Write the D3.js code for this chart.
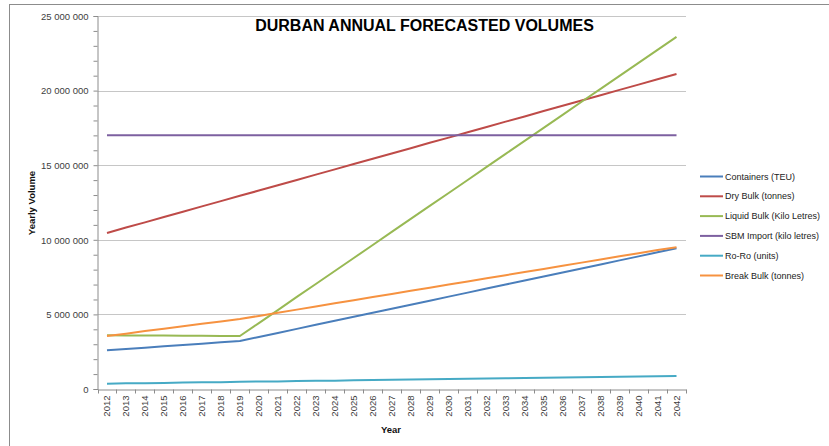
<!DOCTYPE html>
<html>
<head>
<meta charset="utf-8">
<script src="https://cdn.jsdelivr.net/npm/d3@7"></script>
<style>
  html, body { margin: 0; padding: 0; background: #fff; }
  svg { display: block; }
  text { font-family: "Liberation Sans", Arial, sans-serif; }
</style>
</head>
<body>
<svg id="chart" width="829" height="446"></svg>
<script>
// ---- Data ----
const title = "DURBAN ANNUAL FORECASTED VOLUMES";
const years = ["2012","2013","2014","2015","2016","2017","2018","2019","2020","2021","2022","2023","2024","2025","2026","2027","2028","2029","2030","2031","2032","2033","2034","2035","2036","2037","2038","2039","2040","2041","2042"];
const yTicks = [0, 5000000, 10000000, 15000000, 20000000, 25000000];
const seriesNames = ["Containers (TEU)","Dry Bulk (tonnes)","Liquid Bulk (Kilo Letres)","SBM Import (kilo letres)","Ro-Ro (units)","Break Bulk (tonnes)"];
const seriesColors = ["#4A7EBB","#BE4B48","#98B954","#7D60A0","#46AAC5","#F69240"];

const containers = [2590000,2680000,2770000,2860000,2950000,3040000,3130000,3220000,3490000,3760000,4030000,4300000,4570000,4840000,5110000,5380000,5650000,5920000,6190000,6460000,6730000,7000000,7270000,7540000,7810000,8080000,8350000,8620000,8890000,9160000,9430000];
const dryBulk = [10460000,10820000,11170000,11530000,11880000,12240000,12590000,12950000,13300000,13660000,14010000,14370000,14720000,15080000,15430000,15790000,16140000,16500000,16850000,17210000,17560000,17920000,18270000,18630000,18980000,19340000,19690000,20050000,20400000,20760000,21110000];
const liquidBulk = [3600000,3590000,3590000,3580000,3570000,3570000,3560000,3550000,4420000,5290000,6170000,7040000,7910000,8780000,9650000,10530000,11400000,12270000,13140000,14010000,14890000,15760000,16630000,17500000,18370000,19250000,20120000,20990000,21860000,22730000,23600000];
const sbmImport = [17000000,17000000,17000000,17000000,17000000,17000000,17000000,17000000,17000000,17000000,17000000,17000000,17000000,17000000,17000000,17000000,17000000,17000000,17000000,17000000,17000000,17000000,17000000,17000000,17000000,17000000,17000000,17000000,17000000,17000000,17000000];
const roRo = [360000,380000,390000,410000,430000,450000,460000,480000,500000,510000,530000,550000,560000,580000,600000,620000,630000,650000,670000,680000,700000,720000,730000,750000,770000,790000,800000,820000,840000,850000,870000];
const breakBulk = [3550000,3710000,3880000,4040000,4200000,4370000,4530000,4690000,4900000,5110000,5320000,5530000,5740000,5950000,6160000,6370000,6580000,6790000,7000000,7210000,7420000,7630000,7840000,8050000,8260000,8470000,8680000,8890000,9100000,9310000,9500000];

const seriesValues = [containers, dryBulk, liquidBulk, sbmImport, roRo, breakBulk];

// ---- Layout ----
const svg = d3.select("#chart");
const plot = { left: 97.5, right: 686, top: 16, bottom: 389 };

// outer chart border
svg.append("rect")
  .attr("x", 9.5).attr("y", 4.5).attr("width", 840).attr("height", 460)
  .attr("fill", "none").attr("stroke", "#8c8c8c").attr("stroke-width", 1);

const x = d3.scaleBand().domain(years).range([plot.left, plot.right]).padding(0);
const y = d3.scaleLinear().domain([0, 25000000]).range([plot.bottom, plot.top]);

const fmt = v => d3.format(",")(v).replace(/,/g, " ");

// gridlines
svg.append("g").selectAll("line").data(yTicks.filter(d => d > 0)).join("line")
  .attr("x1", plot.left).attr("x2", plot.right)
  .attr("y1", d => Math.round(y(d)) + 0.5).attr("y2", d => Math.round(y(d)) + 0.5)
  .attr("stroke", "#c6c6c6").attr("stroke-width", 1);

// y axis (minor ticks every 1M)
const yMinor = d3.range(0, 25000001, 1000000);
const yAxisG = svg.append("g").attr("transform", `translate(${plot.left},0)`);
yAxisG.call(d3.axisLeft(y).tickValues(yMinor).tickSize(4).tickFormat(""));
yAxisG.selectAll(".domain, .tick line").attr("stroke", "#8c8c8c");
yAxisG.selectAll(".tick").filter(d => d % 5000000 === 0)
  .append("text")
  .attr("x", -9).attr("dy", "0.35em")
  .attr("text-anchor", "end")
  .attr("fill", "#404040")
  .style("font-size", "9.5px")
  .text(d => fmt(d));

// x axis
const xAxisG = svg.append("g").attr("transform", `translate(0,${plot.bottom + 0.5})`);
xAxisG.call(d3.axisBottom(x).tickSize(0).tickFormat(""));
xAxisG.select(".domain").attr("stroke", "#8c8c8c");
// boundary ticks
const bounds = years.map(d => x(d)).concat([x(years[years.length - 1]) + x.bandwidth()]);
xAxisG.append("g").selectAll("line").data(bounds).join("line")
  .attr("x1", d => Math.round(d) + 0.5).attr("x2", d => Math.round(d) + 0.5)
  .attr("y1", 0).attr("y2", 4).attr("stroke", "#8c8c8c");
xAxisG.append("g").selectAll("text").data(years).join("text")
  .attr("transform", d => `translate(${x(d) + x.bandwidth() / 2 + 3.5},6) rotate(-90)`)
  .attr("text-anchor", "end")
  .attr("fill", "#404040")
  .style("font-size", "9.5px")
  .text(d => d);

// axis titles
svg.append("text")
  .attr("x", 391).attr("y", 433)
  .attr("text-anchor", "middle")
  .style("font-size", "9.5px").style("font-weight", "bold").attr("fill", "#111")
  .text("Year");
svg.append("text")
  .attr("transform", "translate(35,203) rotate(-90)")
  .attr("text-anchor", "middle")
  .style("font-size", "9.5px").style("font-weight", "bold").attr("fill", "#111")
  .text("Yearly Volume");

// lines
const line = d3.line()
  .x((d, i) => x(years[i]) + x.bandwidth() / 2)
  .y(d => y(d));
svg.append("g").selectAll("path").data(seriesValues).join("path")
  .attr("d", d => line(d))
  .attr("fill", "none")
  .attr("stroke", (d, i) => seriesColors[i])
  .attr("stroke-width", 2)
  .attr("stroke-linejoin", "round");

// title
const t = svg.append("text")
  .attr("x", 424.5).attr("y", 31)
  .attr("text-anchor", "middle")
  .style("font-size", "15px").style("font-weight", "bold").attr("fill", "#000")
  .text(title);
const tw = t.node().getComputedTextLength();
t.style("font-size", (15 * 339 / tw) + "px");

// legend
const legend = svg.append("g");
seriesNames.forEach((name, i) => {
  const ly = 176.5 + i * 19.8;
  legend.append("line")
    .attr("x1", 700).attr("x2", 723).attr("y1", ly).attr("y2", ly)
    .attr("stroke", seriesColors[i]).attr("stroke-width", 2);
  legend.append("text")
    .attr("x", 725).attr("y", ly).attr("dy", "0.35em")
    .style("font-size", "9px").attr("fill", "#222")
    .text(name);
});
</script>
</body>
</html>
